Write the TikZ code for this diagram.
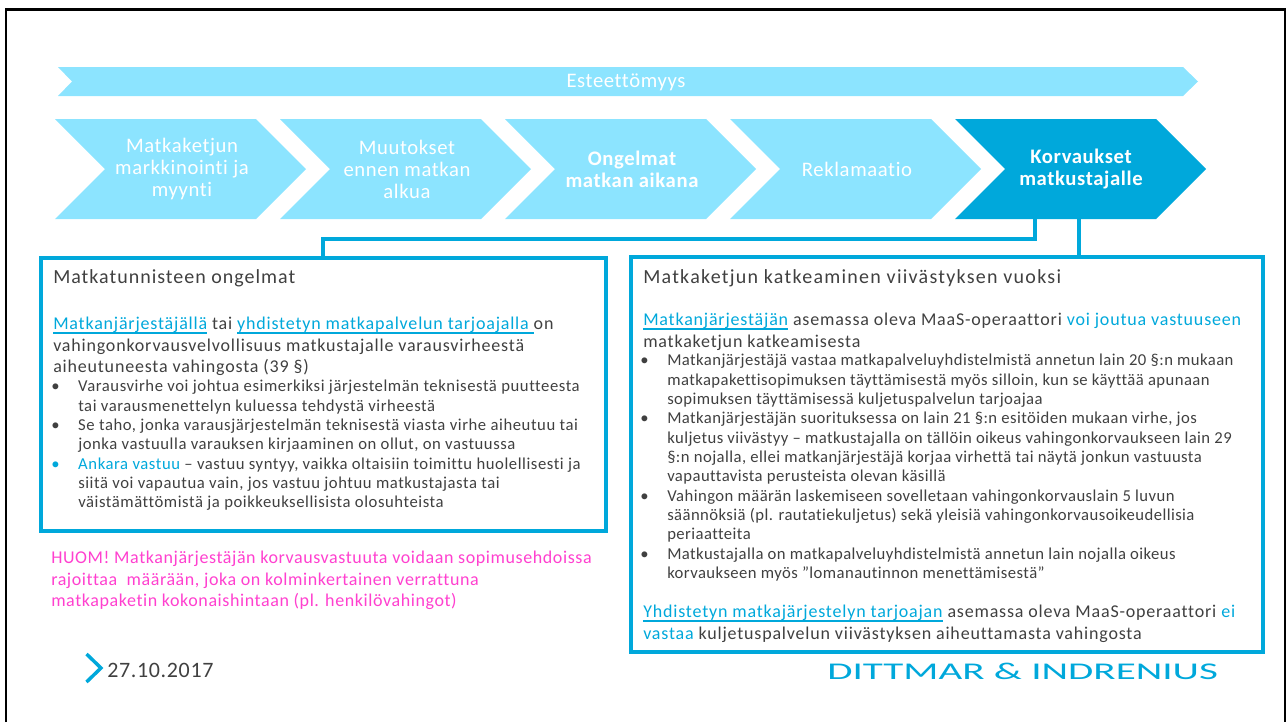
\documentclass[tikz,border=0pt]{standalone}
\usepackage{xcolor}
\usepackage{fontspec}
\usetikzlibrary{calc}
\setmainfont[Ligatures=NoCommon]{Carlito}
\definecolor{dilight}{HTML}{8CE4FF}
\definecolor{didark}{HTML}{00A8DB}
\definecolor{ditext}{HTML}{404040}
\definecolor{dipink}{HTML}{FF40CF}
\newcommand{\lnk}[1]{\textcolor{didark}{\setbox0\hbox{#1}\rlap{\rule[-3pt]{\wd0}{1pt}}\box0}}
\newcommand{\hl}[1]{\textcolor{didark}{#1}}
\newcommand{\bul}{\llap{\textbullet\hspace{14pt}}}
\newcommand{\stepfont}{\fontsize{15.5}{16.5}\selectfont\addfontfeatures{LetterSpace=3}}
\tikzset{
	chevron/.style={fill=dilight},
	steptext/.style={align=center,text=white,font=\stepfont},
	stepbold/.style={align=center,text=white,font=\stepfont\bfseries},
	heading/.style={anchor=base west,inner sep=0pt,text=ditext,font=\fontsize{15}{16}\selectfont\addfontfeatures{LetterSpace=5}},
	headingwide/.style={anchor=base west,inner sep=0pt,text=ditext,font=\fontsize{15}{16}\selectfont\addfontfeatures{LetterSpace=6.3}},
	lead/.style={anchor=north west,inner sep=0pt,align=left,text=ditext,font=\fontsize{13.5}{16.2}\selectfont\addfontfeatures{LetterSpace=4.5}},
	note/.style={anchor=north west,inner sep=0pt,align=left,text=dipink,font=\fontsize{13.5}{16}\selectfont\addfontfeatures{LetterSpace=3.3}},
	bulletsl/.style={anchor=north west,inner sep=0pt,align=left,text=ditext,font=\fontsize{12.5}{14.5}\selectfont\addfontfeatures{LetterSpace=3.4}},
	bulletsr/.style={anchor=north west,inner sep=0pt,align=left,text=ditext,font=\fontsize{12.5}{14.5}\selectfont\addfontfeatures{LetterSpace=2.6}},
	framebox/.style={draw=didark,line width=3pt,anchor=north west,inner sep=0pt,outer sep=0pt},
	link/.style={draw=didark,line width=3pt}
}
\begin{document}
\begin{tikzpicture}[x=0.75pt,y=-0.75pt]
	\useasboundingbox (0,0) rectangle (1286,722);
	% slide frame
	\draw[black,line width=2.2pt] (6,722) -- (6,9.5) -- (1285.5,9.5) -- (1285.5,722);

	% top bar
	\fill[chevron] (58,67) -- (1183,67) -- (1198,81.5) -- (1183,96) -- (58,96) -- (72,81.5) -- cycle;
	\node[steptext] (bar) at (626,82) {Esteettömyys};

	% process steps
	\foreach \x/\c in {55/dilight,280/dilight,505/dilight,730/dilight,955/didark}{
		\fill[\c] (\x,119) -- ($(\x,119)+(201,0)$) -- ($(\x,169)+(251,0)$) -- ($(\x,219)+(201,0)$) -- (\x,219) -- ($(\x,169)+(50,0)$) -- cycle;
	}
	\node[steptext] (s1) at (182,169) {Matkaketjun\\markkinointi ja\\myynti};
	\node[steptext] (s2) at (407,169) {Muutokset\\ennen matkan\\alkua};
	\node[stepbold] (s3) at (632,169) {Ongelmat\\matkan aikana};
	\node[steptext] (s4) at (857,169) {Reklamaatio};
	\node[stepbold] (s5) at (1081,169) {Korvaukset\\matkustajalle};

	% boxes
	\coordinate (s5a) at (1035,219);
	\coordinate (s5b) at (1079,219);
	\node[framebox,minimum width=423.75pt,minimum height=205.1pt] (left) at (41,258) {};
	\node[framebox,minimum width=474.4pt,minimum height=296.25pt] (right) at (630.5,257) {};
	\coordinate (leftin) at ($(left.north west)+(282,0)$);
	\draw[link] (s5a) -- ++(0,20) -| (leftin);
	\draw[link] (s5b) -- (s5b |- right.north);

	% left box
	\node[heading] (t1) at (53,283) {Matkatunnisteen ongelmat};
	\node[lead] (l1) at (53,317) {\lnk{Matkanjärjestäjällä} tai \lnk{yhdistetyn matkapalvelun tarjoajalla }on\\
		vahingonkorvausvelvollisuus matkustajalle varausvirheestä\\
		aiheutuneesta vahingosta (39 §)};
	\node[bulletsl] (b1) at (78,380) {\bul Varausvirhe voi johtua esimerkiksi järjestelmän teknisestä puutteesta\\
		tai varausmenettelyn kuluessa tehdystä virheestä\\
		\bul Se taho, jonka varausjärjestelmän teknisestä viasta virhe aiheutuu tai\\
		jonka vastuulla varauksen kirjaaminen on ollut, on vastuussa\\
		\hl{\bul Ankara vastuu} – vastuu syntyy, vaikka oltaisiin toimittu huolellisesti ja\\
		siitä voi vapautua vain, jos vastuu johtuu matkustajasta tai\\
		väistämättömistä ja poikkeuksellisista olosuhteista};

	% note
	\node[note] (huom) at (51,551) {HUOM! Matkanjärjestäjän korvausvastuuta voidaan sopimusehdoissa\\
		rajoittaa\ \ määrään, joka on kolminkertainen verrattuna\\
		matkapaketin kokonaishintaan (pl. henkilövahingot)};

	% right box
	\node[headingwide] (t2) at (643,283) {Matkaketjun katkeaminen viivästyksen vuoksi};
	\node[lead] (r1) at (643,313) {\lnk{Matkanjärjestäjän} asemassa oleva MaaS-operaattori \hl{voi joutua vastuuseen}\\
		matkaketjun katkeamisesta};
	\node[bulletsr] (b2) at (667,354) {\bul Matkanjärjestäjä vastaa matkapalveluyhdistelmistä annetun lain 20 §:n mukaan\\
		matkapakettisopimuksen täyttämisestä myös silloin, kun se käyttää apunaan\\
		sopimuksen täyttämisessä kuljetuspalvelun tarjoajaa\\
		\bul Matkanjärjestäjän suorituksessa on lain 21 §:n esitöiden mukaan virhe, jos\\
		kuljetus viivästyy – matkustajalla on tällöin oikeus vahingonkorvaukseen lain 29\\
		§:n nojalla, ellei matkanjärjestäjä korjaa virhettä tai näytä jonkun vastuusta\\
		vapauttavista perusteista olevan käsillä\\
		\bul Vahingon määrän laskemiseen sovelletaan vahingonkorvauslain 5 luvun\\
		säännöksiä (pl. rautatiekuljetus) sekä yleisiä vahingonkorvausoikeudellisia\\
		periaatteita\\
		\bul Matkustajalla on matkapalveluyhdistelmistä annetun lain nojalla oikeus\\
		korvaukseen myös ”lomanautinnon menettämisestä”};
	\node[lead] (r2) at (643,605) {\lnk{Yhdistetyn matkajärjestelyn tarjoajan} asemassa oleva MaaS-operaattori \hl{ei}\\
		\hl{vastaa} kuljetuspalvelun viivästyksen aiheuttamasta vahingosta};

	% footer
	\draw[didark,line width=2.6pt] (86.5,654) -- (101,668) -- (86.5,682);
	\node[heading,font=\fontsize{16.5}{18}\selectfont\addfontfeatures{LetterSpace=3}] (date) at (107,677) {27.10.2017};
	\node[anchor=base west,inner sep=0pt,text=didark] (logo) at (827,679) {\fontsize{18}{20}\selectfont\scalebox{1.712}[1]{DITTMAR \& INDRENIUS}};
\end{tikzpicture}
\end{document}
